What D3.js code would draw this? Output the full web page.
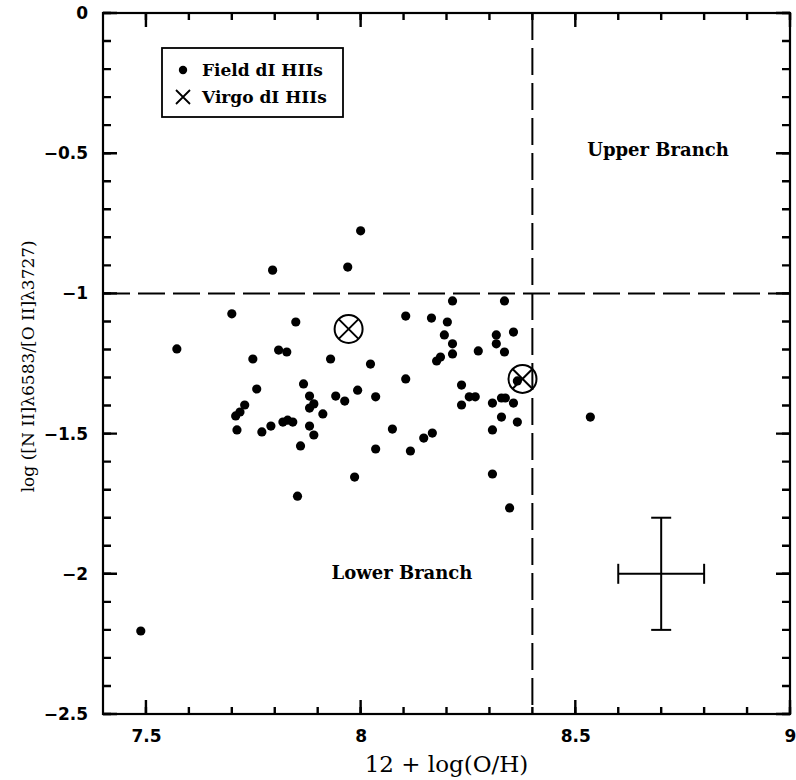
<!DOCTYPE html>
<html>
<head>
<meta charset="utf-8">
<script src="https://cdn.jsdelivr.net/npm/d3@7"></script>
<style>
  body { margin: 0; background: #fff; }
  .tick text { font-family: "DejaVu Sans", sans-serif; font-size: 17px; font-weight: bold; fill: #000; }
</style>
</head>
<body>
<svg id="chart"></svg>
<script>
// N2/O2 vs O/H scatter: field dI HII regions, Virgo dI HII regions

const width = 796;
const height = 780;

// field dI HIIs
const fieldX = [7.795, 7.970, 7.700, 7.849, 7.572, 7.809, 7.828, 7.749, 7.930, 8.023,
  7.867, 7.758, 7.942, 7.881, 7.963, 7.993, 8.035, 7.730, 7.719, 7.709,
  7.891, 7.881, 7.912, 7.819, 7.830, 7.842, 7.791, 7.712, 7.770, 7.881,
  7.891, 8.074, 7.860, 8.035, 7.986, 7.853, 7.488, 8.000, 8.105, 8.165,
  8.202, 8.195, 8.177, 8.186, 8.214, 8.335, 8.356, 8.316, 8.316, 8.214,
  8.214, 8.274, 8.335, 8.105, 8.365, 8.235, 8.253, 8.267, 8.235, 8.307,
  8.328, 8.337, 8.356, 8.328, 8.365, 8.535, 8.307, 8.167, 8.147, 8.116,
  8.307, 8.347];
const fieldY = [-0.917, -0.906, -1.073, -1.102, -1.198, -1.202, -1.209, -1.234, -1.234, -1.252,
  -1.323, -1.341, -1.366, -1.366, -1.384, -1.345, -1.369, -1.398, -1.423, -1.437,
  -1.394, -1.409, -1.430, -1.459, -1.452, -1.459, -1.473, -1.487, -1.494, -1.473,
  -1.505, -1.484, -1.544, -1.555, -1.655, -1.723, -2.204, -0.777, -1.081, -1.088,
  -1.102, -1.148, -1.241, -1.227, -1.027, -1.027, -1.138, -1.148, -1.180, -1.180,
  -1.216, -1.205, -1.209, -1.305, -1.312, -1.327, -1.369, -1.369, -1.398, -1.391,
  -1.373, -1.373, -1.391, -1.441, -1.459, -1.441, -1.487, -1.498, -1.516, -1.562,
  -1.644, -1.765];

// Virgo dI HIIs
const virgoX = [7.972, 8.377];
const virgoY = [-1.127, -1.305];

// typical error bar
const errX = 8.7, errY = -2.0, errDx = 0.1, errDy = 0.2;

// branch split lines
const splitX = 8.4;
const splitY = -1.0;

// ticks
const xMajor = [7.5, 8, 8.5, 9];
const xMinor = d3.range(75, 91).map(d => d / 10);
const yMajor = [-2.5, -2, -1.5, -1, -0.5, 0];
const yMinor = d3.range(-25, 1).map(d => d / 10);

const svg = d3.select("#chart")
  .attr("width", width)
  .attr("height", height);

const x = d3.scaleLinear().domain([7.4, 9]).range([103, 790]);
const y = d3.scaleLinear().domain([-2.5, 0]).range([714, 13]);

const serif = '"DejaVu Serif", "Liberation Serif", serif';
const x0 = x(7.4), x1 = x(9), y0 = y(-2.5), y1 = y(0);

// tick labels (axis only used for the text)
const gx = svg.append("g")
  .attr("transform", "translate(0," + y0 + ")")
  .call(d3.axisBottom(x).tickValues(xMajor).tickSize(0).tickPadding(16).tickFormat(d3.format("")));
gx.select(".domain").remove();
const gy = svg.append("g")
  .attr("transform", "translate(" + x0 + ",0)")
  .call(d3.axisLeft(y).tickValues(yMajor).tickSize(0).tickPadding(15).tickFormat(d3.format("")));
gy.select(".domain").remove();

// axis titles
svg.append("text")
  .attr("x", (x0 + x1) / 2).attr("y", 772)
  .attr("text-anchor", "middle")
  .style("font-family", serif).style("font-size", "23px")
  .text("12 + log(O/H)");

svg.append("text")
  .attr("transform", "translate(34," + y(-1.26) + ") rotate(-90)")
  .attr("text-anchor", "middle")
  .style("font-family", serif).style("font-size", "17px")
  .text("log ([N II]λ6583/[O II]λ3727)");

// dashed split lines
svg.append("line")
  .attr("x1", x(splitX)).attr("x2", x(splitX))
  .attr("y1", y1).attr("y2", y0)
  .attr("stroke", "#000").attr("stroke-width", 2).attr("stroke-dasharray", "27,8");
svg.append("line")
  .attr("x1", x0).attr("x2", x1)
  .attr("y1", y(splitY)).attr("y2", y(splitY))
  .attr("stroke", "#000").attr("stroke-width", 2).attr("stroke-dasharray", "27,8");

// field points
svg.append("g")
  .selectAll("circle")
  .data(fieldX.map((d, i) => [d, fieldY[i]]))
  .enter()
  .append("circle")
  .attr("cx", d => x(d[0]))
  .attr("cy", d => y(d[1]))
  .attr("r", 4.6)
  .attr("fill", "#000");

// Virgo points: circle with X
const r = 14, k = r * Math.SQRT1_2;
const virgo = svg.append("g")
  .selectAll("g")
  .data(virgoX.map((d, i) => [d, virgoY[i]]))
  .enter()
  .append("g")
  .attr("transform", d => "translate(" + x(d[0]) + "," + y(d[1]) + ")")
  .attr("stroke", "#000").attr("stroke-width", 2).attr("fill", "none");
virgo.append("circle").attr("r", r);
virgo.append("path").attr("d", "M" + -k + "," + -k + "L" + k + "," + k + "M" + -k + "," + k + "L" + k + "," + -k);

// error bar
const eb = svg.append("g").attr("stroke", "#000").attr("stroke-width", 2);
eb.append("line").attr("x1", x(errX - errDx)).attr("x2", x(errX + errDx)).attr("y1", y(errY)).attr("y2", y(errY));
eb.append("line").attr("x1", x(errX)).attr("x2", x(errX)).attr("y1", y(errY - errDy)).attr("y2", y(errY + errDy));
[errX - errDx, errX + errDx].forEach(v => {
  eb.append("line").attr("x1", x(v)).attr("x2", x(v)).attr("y1", y(errY) - 10).attr("y2", y(errY) + 10);
});
[errY - errDy, errY + errDy].forEach(v => {
  eb.append("line").attr("x1", x(errX) - 10).attr("x2", x(errX) + 10).attr("y1", y(v)).attr("y2", y(v));
});

// region labels
svg.append("text")
  .attr("x", 658).attr("y", y(-0.51))
  .attr("text-anchor", "middle")
  .style("font-family", serif).style("font-size", "18px").style("font-weight", "bold")
  .text("Upper Branch");
svg.append("text")
  .attr("x", 402).attr("y", y(-2.02))
  .attr("text-anchor", "middle")
  .style("font-family", serif).style("font-size", "18px").style("font-weight", "bold")
  .text("Lower Branch");

// legend
const legend = svg.append("g").attr("transform", "translate(162,48)");
legend.append("rect")
  .attr("width", 181).attr("height", 69)
  .attr("fill", "#fff").attr("stroke", "#000").attr("stroke-width", 1.8);
legend.append("circle").attr("cx", 21).attr("cy", 22).attr("r", 4.2).attr("fill", "#000");
legend.append("path")
  .attr("d", "M14,42L28,56M14,56L28,42")
  .attr("stroke", "#000").attr("stroke-width", 1.8);
legend.append("text").attr("x", 40).attr("y", 28)
  .style("font-family", serif).style("font-size", "17px").style("font-weight", "bold")
  .text("Field dI HIIs");
legend.append("text").attr("x", 40).attr("y", 55)
  .style("font-family", serif).style("font-size", "17px").style("font-weight", "bold")
  .text("Virgo dI HIIs");

// frame
svg.append("rect")
  .attr("x", x0).attr("y", y1)
  .attr("width", x1 - x0).attr("height", y0 - y1)
  .attr("fill", "none").attr("stroke", "#000").attr("stroke-width", 2.2);

// inward tick marks on all four sides
const ticks = svg.append("g").attr("stroke", "#000").attr("stroke-width", 2.4).attr("fill", "none");
function tickPath(vals, len) {
  return vals.map(d => "M" + x(d) + "," + y0 + "v" + (-len) + "M" + x(d) + "," + y1 + "v" + len).join("");
}
function yTickPath(vals, len) {
  return vals.map(d => "M" + x0 + "," + y(d) + "h" + len + "M" + x1 + "," + y(d) + "h" + (-len)).join("");
}
ticks.append("path").attr("d", tickPath(xMinor, 7));
ticks.append("path").attr("d", tickPath(xMajor, 14));
ticks.append("path").attr("d", yTickPath(yMinor, 8));
ticks.append("path").attr("d", yTickPath(yMajor, 14));
</script>
</body>
</html>
